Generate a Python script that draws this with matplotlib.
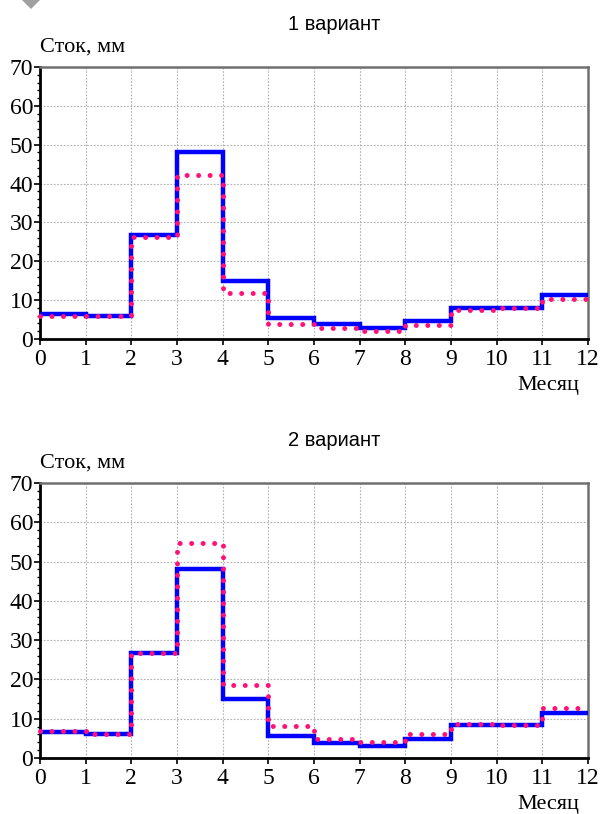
import matplotlib
matplotlib.use("Agg")
import matplotlib.pyplot as plt
from matplotlib.ticker import MultipleLocator
import numpy as np

months = list(range(13))
x_ticks = [str(m) for m in months]
y_ticks = [0, 10, 20, 30, 40, 50, 60, 70]

obs_1 = [6.4, 5.9, 26.7, 48.1, 14.8, 5.5, 3.8, 2.8, 4.7, 8.1, 8.1, 11.4]
mod_1 = [5.9, 5.9, 26.3, 42.1, 11.9, 3.9, 2.9, 2.0, 3.5, 7.4, 7.9, 10.3]

obs_2 = [6.5, 6.0, 26.8, 48.2, 14.9, 5.6, 3.8, 3.1, 4.9, 8.3, 8.3, 11.5]
mod_2 = [7.0, 6.0, 26.8, 54.7, 18.5, 8.2, 4.9, 4.2, 6.0, 8.6, 8.5, 12.7]

titles = ["1 вариант", "2 вариант"]
ylabel = "Сток, мм"
xlabel = "Месяц"

W, H = 602, 814
fig = plt.figure(figsize=(W / 100, H / 100), dpi=100)

serif = ["Liberation Serif", "DejaVu Serif"]
narrow = ["Liberation Sans Narrow", "Liberation Sans", "DejaVu Sans"]

# grey triangle decoration top-left
tri = plt.Polygon([[22 / W, 1.0], [40 / W, 1.0], [31 / W, 1 - 9 / H]],
                  closed=True, transform=fig.transFigure, color="#a0a0a0", lw=0)
fig.patches.append(tri)

panels = [
    (obs_1, mod_1, titles[0], 67, 339),
    (obs_2, mod_2, titles[1], 483, 758),
]

for obs, mod, title, top, bottom in panels:
    left, right = 40, 588
    ax = fig.add_axes([left / W, 1 - bottom / H, (right - left) / W, (bottom - top) / H])
    ax.set_xlim(0, 12)
    ax.set_ylim(0, 70)
    ax.grid(True, color="#b0b0b0", linestyle=(0, (1.5, 1.5)), linewidth=0.8)
    ax.set_axisbelow(True)
    ax.plot(months, obs + [obs[-1]], drawstyle="steps-post", color="#0000ff",
            linewidth=3.2, zorder=3, solid_joinstyle="miter")
    ax.plot(months, mod + [mod[-1]], drawstyle="steps-post", color="#ff1177",
            linewidth=3.6, linestyle=(0, (0.001, 2.3)), dash_capstyle="round",
            zorder=4, clip_on=False)
    ax.set_xticks(months)
    ax.set_xticklabels(x_ticks, fontfamily=serif, fontsize=17)
    ax.set_yticks(y_ticks)
    ax.set_yticklabels([str(v) for v in y_ticks], fontfamily=serif, fontsize=17)
    ax.yaxis.set_minor_locator(MultipleLocator(2))
    ax.tick_params(axis="x", which="major", direction="out", length=4, width=1.2,
                   pad=3, colors="black")
    ax.tick_params(axis="y", which="major", direction="out", length=4, width=1.2,
                   pad=1, colors="black")
    ax.tick_params(axis="y", which="minor", direction="out", length=2, width=1)
    for s in ["left", "bottom"]:
        ax.spines[s].set_color("black")
        ax.spines[s].set_linewidth(2)
    for s in ["top", "right"]:
        ax.spines[s].set_color("#707070")
        ax.spines[s].set_linewidth(1.8)
    fig.text(334 / W, 1 - (top - 43) / H, title, ha="center", va="center",
             fontfamily=narrow, fontsize=14.5)
    fig.text(40 / W, 1 - (top - 20) / H, ylabel, ha="left", va="center",
             fontfamily=serif, fontsize=16)
    fig.text(548 / W, 1 - (bottom + 46) / H, xlabel, ha="center", va="center",
             fontfamily=serif, fontsize=16)

fig.savefig("out.png", dpi=100)
